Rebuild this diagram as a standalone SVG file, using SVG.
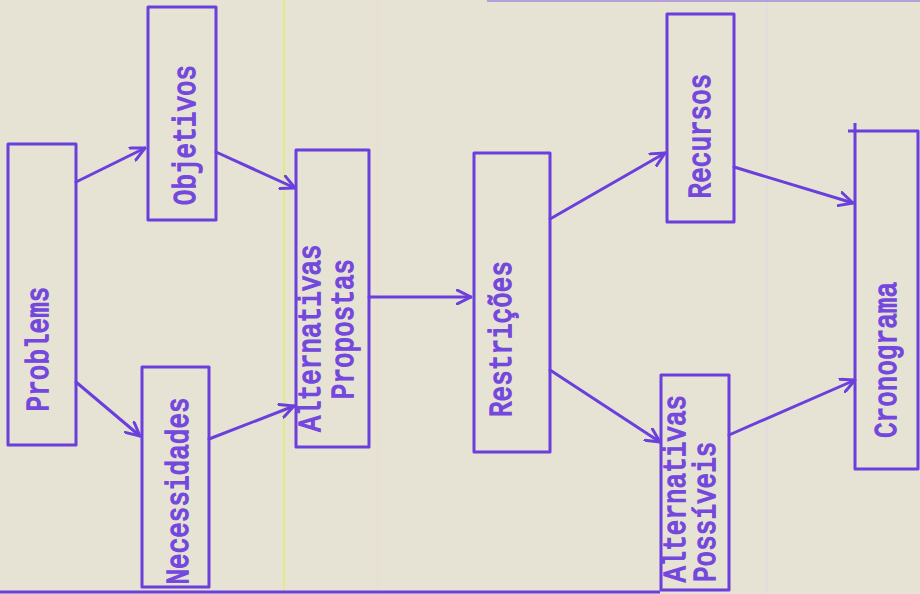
<svg xmlns="http://www.w3.org/2000/svg" width="920" height="594" viewBox="0 0 920 594">
<defs>
<style>
.box{fill:none;stroke:#6a3fdc;stroke-width:3;stroke-linejoin:round}
.con{fill:none;stroke:#6a3fdc;stroke-width:3;stroke-linecap:round}
.lbl,.lbls{font-family:'Liberation Mono',monospace;font-weight:normal;font-size:26px;fill:#7448dc;stroke:#7448dc;stroke-width:1.3;dominant-baseline:central}
.lbl{text-anchor:middle}
.lbls{text-anchor:start}
</style>
<marker id="ah" viewBox="0 0 14 14" refX="13" refY="7" markerWidth="16" markerHeight="16" markerUnits="userSpaceOnUse" orient="auto">
<path d="M1,1 L13,7 L1,13" fill="none" stroke="#6a3fdc" stroke-width="2.6" stroke-linecap="round" stroke-linejoin="round"/>
</marker>
</defs>
<rect x="0" y="0" width="920" height="594" fill="#e6e2d4"/>
<line x1="284" y1="0" x2="284" y2="594" stroke="#e4ee6a" stroke-width="1.5"/>
<line x1="378" y1="0" x2="378" y2="594" stroke="#eed9cc" stroke-width="1"/>
<line x1="767" y1="0" x2="767" y2="594" stroke="#e2d8e2" stroke-width="1"/>
<line x1="487" y1="1" x2="920" y2="1" stroke="#a08ad8" stroke-width="1.5"/>
<line x1="0" y1="592" x2="660" y2="592" stroke="#6a3fdc" stroke-width="3"/>

<g id="connectors">
<line class="con" x1="76" y1="182" x2="145" y2="148" marker-end="url(#ah)"/>
<line class="con" x1="76" y1="382" x2="140" y2="436" marker-end="url(#ah)"/>
<line class="con" x1="216" y1="152" x2="295" y2="188" marker-end="url(#ah)"/>
<line class="con" x1="209" y1="439" x2="294" y2="406" marker-end="url(#ah)"/>
<line class="con" x1="369" y1="297" x2="471" y2="297" marker-end="url(#ah)"/>
<line class="con" x1="550" y1="219" x2="665" y2="153" marker-end="url(#ah)"/>
<line class="con" x1="550" y1="370" x2="660" y2="442" marker-end="url(#ah)"/>
<line class="con" x1="734" y1="167" x2="853" y2="203" marker-end="url(#ah)"/>
<line class="con" x1="729" y1="435" x2="855" y2="380" marker-end="url(#ah)"/>
</g>

<g id="problemas">
<rect class="box" x="8" y="144" width="68" height="301"/>
<text class="lbl" transform="translate(40,349) rotate(-90) scale(1,1.2)">Problems</text>
</g>
<g id="objetivos">
<rect class="box" x="148" y="7" width="68" height="213"/>
<text class="lbl" transform="translate(187,135) rotate(-90) scale(1,1.2)">Objetivos</text>
</g>
<g id="necessidades">
<rect class="box" x="142" y="367" width="67" height="220"/>
<text class="lbl" transform="translate(180,491) rotate(-90) scale(1,1.2)">Necessidades</text>
</g>
<g id="alternativas-propostas">
<rect class="box" x="296" y="150" width="73" height="297"/>
<text class="lbl" transform="translate(312,338) rotate(-90) scale(1,1.2)">Alternativas</text>
<text class="lbl" transform="translate(345,329) rotate(-90) scale(1,1.2)">Propostas</text>
</g>
<g id="restricoes">
<rect class="box" x="474" y="153" width="76" height="299"/>
<text class="lbl" transform="translate(503,339) rotate(-90) scale(1,1.2)">Restrições</text>
</g>
<g id="recursos">
<rect class="box" x="667" y="14" width="67" height="208"/>
<text class="lbl" transform="translate(702,136) rotate(-90) scale(1,1.2)">Recursos</text>
</g>
<g id="alternativas-possiveis">
<rect class="box" x="661" y="375" width="68" height="215"/>
<text class="lbls" transform="translate(677,582) rotate(-90) scale(1,1.2)">Alternativas</text>
<text class="lbls" transform="translate(707,582) rotate(-90) scale(1,1.2)">Possíveis</text>
</g>
<g id="cronograma">
<path class="box" d="M848,131 L918,131 L918,469 L855,469 L855,123"/>
<text class="lbl" transform="translate(888,360) rotate(-90) scale(1,1.2)">Cronograma</text>
</g>
</svg>
